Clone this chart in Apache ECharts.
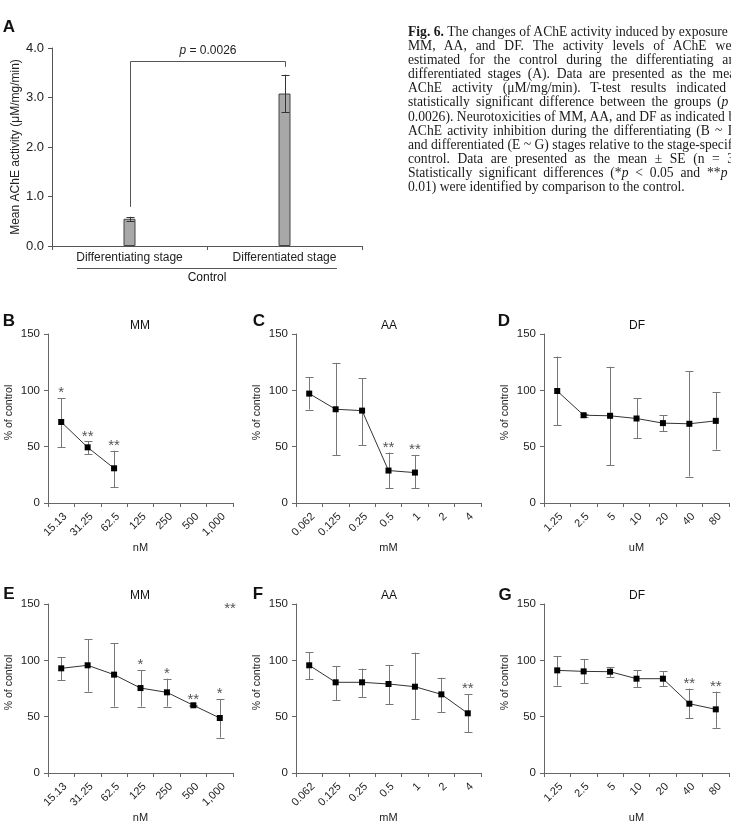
<!DOCTYPE html>
<html>
<head>
<meta charset="utf-8">
<script src="https://cdn.jsdelivr.net/npm/echarts@6/dist/echarts.min.js"></script>
<style>
  html, body { margin: 0; padding: 0; background: #fff; overflow: hidden; }
  #main { position: absolute; left: 0; top: 0; width: 731px; height: 828px; }
  #caption { position: absolute; left: 408px; top: 25px; width: 334px;
    font-family: "Liberation Serif", "Times New Roman", serif; font-size: 13.6px;
    line-height: 14.1px; color: #1a1a1a; }
  #caption div { text-align: justify; text-align-last: justify; white-space: nowrap; }
  #caption div.last { text-align: left; text-align-last: left; }
</style>
</head>
<body>
<div id="main"></div>
<div id="caption">
  <div><b>Fig. 6.</b> The changes of AChE activity induced by exposure to</div>
  <div>MM, AA, and DF. The activity levels of AChE were</div>
  <div>estimated for the control during the differentiating and</div>
  <div>differentiated stages (A). Data are presented as the mean</div>
  <div>AChE activity (μM/mg/min). T-test results indicated a</div>
  <div>statistically significant difference between the groups (<i>p</i> =</div>
  <div>0.0026). Neurotoxicities of MM, AA, and DF as indicated by</div>
  <div>AChE activity inhibition during the differentiating (B ~ D)</div>
  <div>and differentiated (E ~ G) stages relative to the stage-specific</div>
  <div>control. Data are presented as the mean ± SE (n = 3).</div>
  <div>Statistically significant differences (*<i>p</i> &lt; 0.05 and **<i>p</i> &lt;</div>
  <div class="last">0.01) were identified by comparison to the control.</div>
</div>
<script>
// panel A: control AChE activity
const stageCats = ['Differentiating stage', 'Differentiated stage'];
const stageMean = [0.55, 3.08];
const stageLow = [0.51, 2.70];
const stageHigh = [0.59, 3.46];

// dose labels
const mmDoses = ['15.13', '31.25', '62.5', '125', '250', '500', '1,000'];
const aaDoses = ['0.062', '0.125', '0.25', '0.5', '1', '2', '4'];
const dfDoses = ['1.25', '2.5', '5', '10', '20', '40', '80'];

// differentiating stage (B ~ D)
const mmDiffMean = [71.9, 49.4, 30.8];
const mmDiffLow = [49.7, 43.5, 13.9];
const mmDiffHigh = [93.2, 54.7, 46.4];
const mmDiffStars = ['*', '**', '**'];

const aaDiffMean = [97.1, 83.2, 82, 28.8, 27];
const aaDiffLow = [82.9, 42.6, 51.2, 12.9, 12.9];
const aaDiffHigh = [111.8, 124.4, 110.6, 44.7, 42.4];
const aaDiffStars = ['', '', '', '**', '**'];

const dfDiffMean = [99.4, 77.9, 77.4, 75, 70.9, 70.3, 72.9];
const dfDiffLow = [68.8, 75.9, 33.5, 57.6, 63.8, 23.5, 47.4];
const dfDiffHigh = [130, 79.4, 120.9, 92.9, 77.9, 117, 98.2];
const dfDiffStars = ['', '', '', '', '', '', ''];

// differentiated stage (E ~ G)
const mmMatMean = [92.9, 95.6, 87.3, 75.4, 71.6, 60.1, 48.8];
const mmMatLow = [82.5, 72.2, 58.9, 58.9, 58.9, 59.6, 31.4];
const mmMatHigh = [102.7, 118.6, 115.4, 91.4, 83.7, 60.6, 65.4];
const mmMatStars = ['', '', '', '*', '*', '**', '*'];

const aaMatMean = [95.6, 80.5, 80.5, 79, 76.6, 69.8, 53];
const aaMatLow = [83.4, 64.8, 67.5, 60.9, 47.6, 53.8, 36.1];
const aaMatHigh = [107.1, 95, 92.6, 95.9, 106.8, 84.6, 69.8];
const aaMatStars = ['', '', '', '', '', '', '**'];

const dfMatMean = [91.1, 90.2, 89.9, 83.7, 83.7, 61.5, 56.5];
const dfMatLow = [77.5, 79.6, 85.2, 76.3, 77.2, 48.5, 40.2];
const dfMatHigh = [103.8, 100.9, 93.8, 91.1, 90.2, 74.9, 72.2];
const dfMatStars = ['', '', '', '', '', '**', '**'];

const FONT = '"Liberation Sans", Arial, sans-serif';
const AXIS = '#666';
const TXT = '#222';

var chart = echarts.init(document.getElementById('main'));

function crisp(v) { return Math.round(v) + 0.5; }

function errorBars(gi, lo, hi, color, capW) {
  return {
    type: 'custom', xAxisIndex: gi, yAxisIndex: gi, z: 3, silent: true,
    data: lo.map(function (v, i) { return [i, v, hi[i]]; }),
    renderItem: function (params, api) {
      var a = api.coord([api.value(0), api.value(1)]);
      var b = api.coord([api.value(0), api.value(2)]);
      var x = crisp(a[0]);
      var st = { stroke: color, lineWidth: 1 };
      return {
        type: 'group', children: [
          { type: 'line', shape: { x1: x, y1: a[1], x2: x, y2: b[1] }, style: st },
          { type: 'line', shape: { x1: x - capW / 2, y1: crisp(a[1]), x2: x + capW / 2, y2: crisp(a[1]) }, style: st },
          { type: 'line', shape: { x1: x - capW / 2, y1: crisp(b[1]), x2: x + capW / 2, y2: crisp(b[1]) }, style: st }
        ]
      };
    }
  };
}

function starMarks(gi, hi, stars) {
  var items = [];
  stars.forEach(function (s, i) { if (s) items.push({ i: i, s: s }); });
  return {
    type: 'custom', xAxisIndex: gi, yAxisIndex: gi, z: 5, silent: true,
    data: items.map(function (d) { return [d.i, hi[d.i]]; }),
    renderItem: function (params, api) {
      var p = api.coord([api.value(0), api.value(1)]);
      return {
        type: 'text', x: p[0], y: p[1] - 5,
        style: { text: items[params.dataIndex].s, fill: '#555', fontSize: 15, fontFamily: FONT,
          align: 'center', verticalAlign: 'middle' }
      };
    }
  };
}

function meanLine(gi, mean) {
  return {
    type: 'line', xAxisIndex: gi, yAxisIndex: gi, z: 4, silent: true, data: mean,
    symbol: 'rect', symbolSize: 6, showSymbol: true,
    lineStyle: { color: '#333', width: 1 }, itemStyle: { color: '#000' }
  };
}

// grids: 0 = A, 1..6 = B..G
var cols = [48, 296, 544];
var rows = [334, 604];
var grids = [{ left: 52, top: 48, width: 310, height: 198 }];
rows.forEach(function (t) {
  cols.forEach(function (l) { grids.push({ left: l, top: t, width: 185, height: 169 }); });
});

var doseSets = [mmDoses, aaDoses, dfDoses, mmDoses, aaDoses, dfDoses];
var units = ['nM', 'mM', 'uM', 'nM', 'mM', 'uM'];

var xAxes = [{
  gridIndex: 0, type: 'category', data: stageCats,
  axisLine: { lineStyle: { color: '#555' } },
  axisTick: { show: true, length: 4, lineStyle: { color: '#555' } },
  axisLabel: { fontSize: 12, color: TXT, fontFamily: FONT, margin: 6 }
}];
var yAxes = [{
  gridIndex: 0, type: 'value', min: 0, max: 4, interval: 1,
  axisLine: { show: true, lineStyle: { color: '#555' } },
  axisTick: { show: true, length: 4, lineStyle: { color: '#555' } },
  splitLine: { show: false },
  axisLabel: { fontSize: 13, color: TXT, fontFamily: FONT, margin: 8,
    formatter: function (v) { return v.toFixed(1); } },
  name: 'Mean AChE activity (μM/mg/min)', nameLocation: 'middle', nameGap: 30,
  nameTextStyle: { fontSize: 12, color: TXT, fontFamily: FONT }
}];
doseSets.forEach(function (d, k) {
  xAxes.push({
    gridIndex: k + 1, type: 'category', data: d,
    axisLine: { lineStyle: { color: AXIS } },
    axisTick: { show: true, length: 4, lineStyle: { color: AXIS } },
    axisLabel: { rotate: 45, interval: 0, fontSize: 11, color: TXT, fontFamily: FONT, margin: 8,
      verticalAlign: 'top' },
    name: units[k], nameLocation: 'middle', nameGap: 39,
    nameTextStyle: { fontSize: 11, color: TXT, fontFamily: FONT }
  });
  yAxes.push({
    gridIndex: k + 1, type: 'value', min: 0, max: 150, interval: 50,
    axisLine: { show: true, lineStyle: { color: AXIS } },
    axisTick: { show: true, length: 4, lineStyle: { color: AXIS } },
    splitLine: { show: false },
    axisLabel: { fontSize: 11.5, color: TXT, fontFamily: FONT, margin: 8 },
    name: '% of control', nameLocation: 'middle', nameGap: 33,
    nameTextStyle: { fontSize: 10.5, color: TXT, fontFamily: FONT, padding: [0, 0, 0, 12] }
  });
});

var panels = [
  [mmDiffMean, mmDiffLow, mmDiffHigh, mmDiffStars],
  [aaDiffMean, aaDiffLow, aaDiffHigh, aaDiffStars],
  [dfDiffMean, dfDiffLow, dfDiffHigh, dfDiffStars],
  [mmMatMean, mmMatLow, mmMatHigh, mmMatStars],
  [aaMatMean, aaMatLow, aaMatHigh, aaMatStars],
  [dfMatMean, dfMatLow, dfMatHigh, dfMatStars]
];

var series = [
  {
    type: 'bar', xAxisIndex: 0, yAxisIndex: 0, data: stageMean, barWidth: 12, silent: true,
    itemStyle: { color: '#a8a8a8', borderColor: '#444', borderWidth: 1 }
  },
  errorBars(0, stageLow, stageHigh, '#333', 8),
  {
    // significance bracket between the two stages
    type: 'custom', xAxisIndex: 0, yAxisIndex: 0, silent: true,
    data: [[0, 1, 0.79, 3.62, 3.74, 3.94]],
    renderItem: function (params, api) {
      var l = api.coord([api.value(0), api.value(2)]);
      var r = api.coord([api.value(1), api.value(3)]);
      var top = api.coord([0, api.value(4)])[1];
      var ty = api.coord([0, api.value(5)])[1];
      var lx = crisp(l[0]), rx = crisp(r[0]), yt = crisp(top);
      return {
        type: 'group', children: [
          { type: 'polyline', shape: { points: [[lx, l[1]], [lx, yt], [rx, yt], [rx, r[1]]] },
            style: { stroke: '#555', lineWidth: 1, fill: null } },
          { type: 'text', x: (lx + rx) / 2, y: ty,
            style: { text: '{i|p} = 0.0026', fill: TXT, fontSize: 12, fontFamily: FONT,
              align: 'center', verticalAlign: 'middle',
              rich: { i: { fontStyle: 'italic', fontSize: 12, fontFamily: FONT, fill: TXT } } } }
        ]
      };
    }
  }
];
panels.forEach(function (p, k) {
  series.push(errorBars(k + 1, p[1], p[2], '#777', 8));
  series.push(meanLine(k + 1, p[0]));
  series.push(starMarks(k + 1, p[2], p[3]));
});

function label(x, y, text, size, weight) {
  return { type: 'text', x: x, y: y, silent: true,
    style: { text: text, fill: '#111', fontSize: size, fontWeight: weight || 'normal', fontFamily: FONT,
      align: 'center', verticalAlign: 'middle' } };
}

var graphics = [
  label(9, 27, 'A', 17, 'bold'),
  label(9, 321, 'B', 17, 'bold'), label(259, 321, 'C', 17, 'bold'), label(504, 321, 'D', 17, 'bold'),
  label(9, 594, 'E', 17, 'bold'), label(258, 594, 'F', 17, 'bold'), label(505, 595, 'G', 17, 'bold'),
  label(140, 326, 'MM', 12), label(389, 326, 'AA', 12), label(637, 326, 'DF', 12),
  label(140, 596, 'MM', 12), label(389, 596, 'AA', 12), label(637, 596, 'DF', 12),
  { type: 'line', silent: true, shape: { x1: 77, y1: 268.5, x2: 337, y2: 268.5 },
    style: { stroke: '#555', lineWidth: 1 } },
  label(207, 278, 'Control', 12),
  { type: 'text', x: 230, y: 609, silent: true,
    style: { text: '**', fill: '#555', fontSize: 15, fontFamily: FONT, align: 'center', verticalAlign: 'middle' } }
];

chart.setOption({
  animation: false,
  textStyle: { fontFamily: FONT },
  grid: grids,
  xAxis: xAxes,
  yAxis: yAxes,
  series: series,
  graphic: graphics
});
</script>
</body>
</html>
